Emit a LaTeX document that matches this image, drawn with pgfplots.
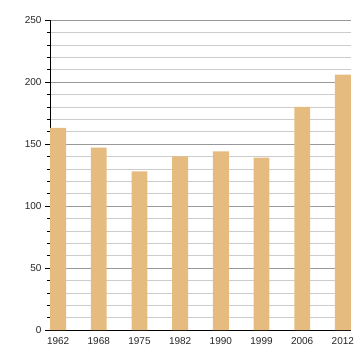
\documentclass[border=0pt]{standalone}
\usepackage{pgfplots}
\pgfplotsset{compat=1.18}
\usepackage{fontspec}
\setmainfont{Liberation Sans}
\definecolor{barc}{RGB}{230,187,128}
\begin{document}
\begin{tikzpicture}
\useasboundingbox (0,0) rectangle (360pt,360pt);
\begin{axis}[
  at={(50pt,30pt)}, anchor=south west,
  scale only axis, width=301pt, height=310pt,
  xmin=-0.2, xmax=7.2, ymin=0, ymax=250,
  axis lines*=left,
  axis line style={black, line width=0.8pt},
  xtick={0,...,7},
  xticklabels={1962,1968,1975,1982,1990,1999,2006,2012},
  x tick style={draw=none},
  ytick={0,50,...,250},
  minor y tick num=4,
  ymajorgrids, yminorgrids,
  major grid style={draw=gray!80, line width=0.6pt},
  minor grid style={draw=gray!40, line width=0.6pt},
  y tick style={black, line width=0.6pt},
  tick align=outside,
  major tick length=5pt, minor tick length=3pt,
  tick label style={font=\fontsize{10}{12}\selectfont, text=black!85},
  /pgf/number format/assume math mode=true,
  xticklabel style={yshift=1pt},
  clip=false,
]
\addplot[ybar, bar width=0.39, draw=none, fill=barc] coordinates {
(0,163) (1,147) (2,128) (3,140) (4,144) (5,139) (6,180) (7,206)
};
\end{axis}
\end{tikzpicture}
\end{document}
